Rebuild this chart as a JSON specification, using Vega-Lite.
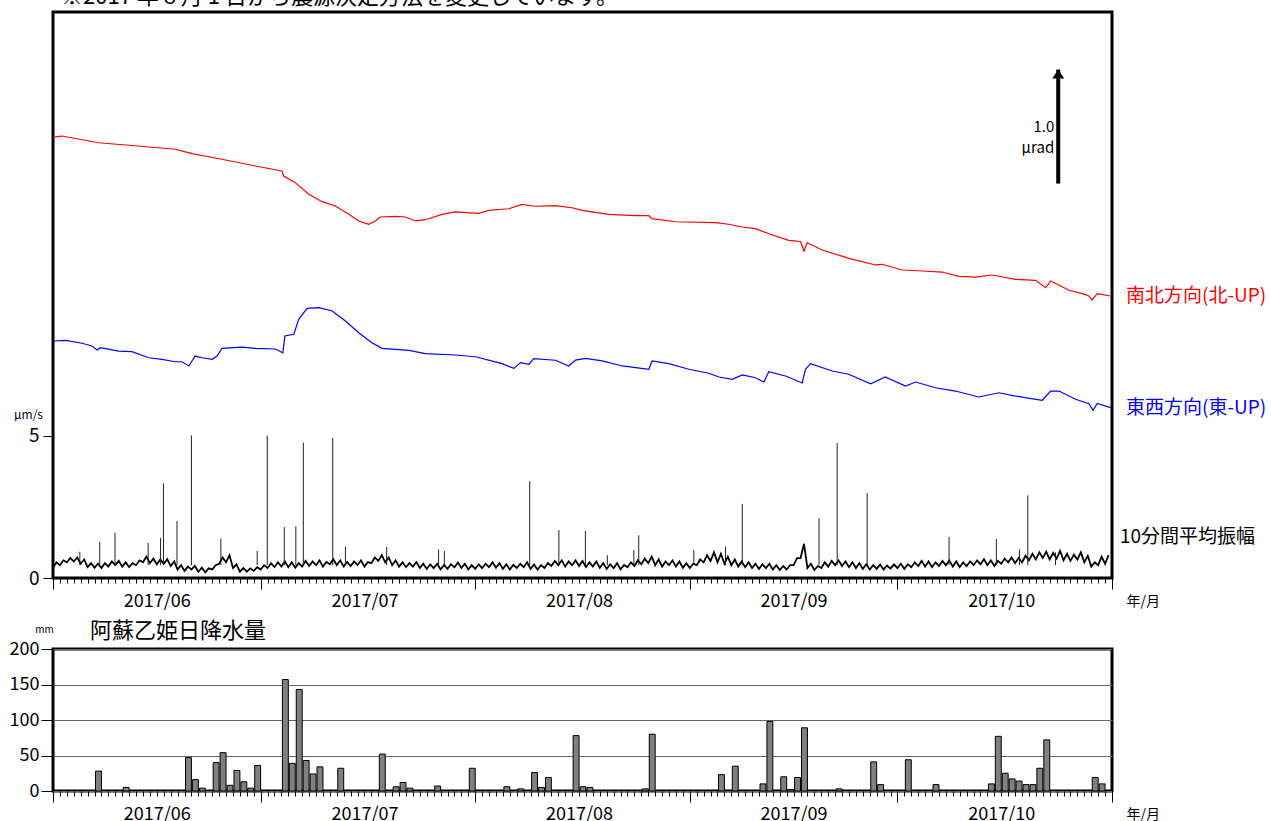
{
"$schema": "https://vega.github.io/schema/vega-lite/v6.json",
"padding": {"left": 7, "top": -16, "right": 2, "bottom": 0},
"background": "white",
"config": {
 "font": "Noto Sans CJK JP",
 "view": {"stroke": "black", "strokeWidth": 3},
 "title": {"fontWeight": "normal", "color": "black", "font": "Noto Sans CJK JP"},
 "axis": {"labelColor": "black", "tickColor": "black", "titleColor": "black", "labelFont": "Noto Sans CJK JP", "titleFont": "Noto Sans CJK JP", "titleFontWeight": "normal"}
},
"datasets": {
 "tilt": [
  {"comp":"NS","t":"2017-06-01T02:00","v":3.868},{"comp":"NS","t":"2017-06-02T07:00","v":3.877},{"comp":"NS","t":"2017-06-07T14:00","v":3.818},{"comp":"NS","t":"2017-06-11T23:00","v":3.796},{"comp":"NS","t":"2017-06-18T16:00","v":3.761},{"comp":"NS","t":"2017-06-21T02:00","v":3.722},{"comp":"NS","t":"2017-06-25T10:00","v":3.673},{"comp":"NS","t":"2017-06-30T06:00","v":3.614},{"comp":"NS","t":"2017-07-04T02:00","v":3.570},{"comp":"NS","t":"2017-07-04T08:00","v":3.526},{"comp":"NS","t":"2017-07-06T00:00","v":3.468},{"comp":"NS","t":"2017-07-07T23:00","v":3.366},{"comp":"NS","t":"2017-07-09T21:00","v":3.301},{"comp":"NS","t":"2017-07-11T19:00","v":3.263},{"comp":"NS","t":"2017-07-13T18:00","v":3.190},{"comp":"NS","t":"2017-07-15T04:00","v":3.132},{"comp":"NS","t":"2017-07-16T15:00","v":3.103},{"comp":"NS","t":"2017-07-17T14:00","v":3.132},{"comp":"NS","t":"2017-07-18T07:00","v":3.167},{"comp":"NS","t":"2017-07-20T11:00","v":3.173},{"comp":"NS","t":"2017-07-21T22:00","v":3.167},{"comp":"NS","t":"2017-07-23T09:00","v":3.132},{"comp":"NS","t":"2017-07-24T19:00","v":3.143},{"comp":"NS","t":"2017-07-27T05:00","v":3.190},{"comp":"NS","t":"2017-07-29T03:00","v":3.211},{"comp":"NS","t":"2017-08-01T12:00","v":3.199},{"comp":"NS","t":"2017-08-02T23:00","v":3.225},{"comp":"NS","t":"2017-08-05T20:00","v":3.239},{"comp":"NS","t":"2017-08-07T18:00","v":3.278},{"comp":"NS","t":"2017-08-09T17:00","v":3.261},{"comp":"NS","t":"2017-08-12T14:00","v":3.266},{"comp":"NS","t":"2017-08-15T00:00","v":3.248},{"comp":"NS","t":"2017-08-16T11:00","v":3.225},{"comp":"NS","t":"2017-08-20T07:00","v":3.190},{"comp":"NS","t":"2017-08-24T04:00","v":3.178},{"comp":"NS","t":"2017-08-26T02:00","v":3.178},{"comp":"NS","t":"2017-08-26T13:00","v":3.152},{"comp":"NS","t":"2017-08-29T22:00","v":3.125},{"comp":"NS","t":"2017-09-04T17:00","v":3.117},{"comp":"NS","t":"2017-09-06T15:00","v":3.103},{"comp":"NS","t":"2017-09-08T14:00","v":3.079},{"comp":"NS","t":"2017-09-10T12:00","v":3.064},{"comp":"NS","t":"2017-09-12T10:00","v":3.020},{"comp":"NS","t":"2017-09-15T07:00","v":2.962},{"comp":"NS","t":"2017-09-17T00:00","v":2.952},{"comp":"NS","t":"2017-09-17T12:00","v":2.868},{"comp":"NS","t":"2017-09-17T23:00","v":2.941},{"comp":"NS","t":"2017-09-20T03:00","v":2.877},{"comp":"NS","t":"2017-09-24T00:00","v":2.804},{"comp":"NS","t":"2017-09-27T20:00","v":2.746},{"comp":"NS","t":"2017-09-28T19:00","v":2.752},{"comp":"NS","t":"2017-10-01T17:00","v":2.702},{"comp":"NS","t":"2017-10-04T14:00","v":2.693},{"comp":"NS","t":"2017-10-07T11:00","v":2.684},{"comp":"NS","t":"2017-10-09T21:00","v":2.646},{"comp":"NS","t":"2017-10-12T07:00","v":2.640},{"comp":"NS","t":"2017-10-14T17:00","v":2.658},{"comp":"NS","t":"2017-10-18T01:00","v":2.620},{"comp":"NS","t":"2017-10-20T23:00","v":2.611},{"comp":"NS","t":"2017-10-22T10:00","v":2.546},{"comp":"NS","t":"2017-10-23T03:00","v":2.605},{"comp":"NS","t":"2017-10-25T19:00","v":2.524},{"comp":"NS","t":"2017-10-27T17:00","v":2.494},{"comp":"NS","t":"2017-10-28T16:00","v":2.474},{"comp":"NS","t":"2017-10-29T03:00","v":2.439},{"comp":"NS","t":"2017-10-29T21:00","v":2.494},{"comp":"NS","t":"2017-10-31T19:00","v":2.474},
  {"comp":"EW","t":"2017-06-01T02:00","v":2.079},{"comp":"EW","t":"2017-06-02T19:00","v":2.085},{"comp":"EW","t":"2017-06-05T05:00","v":2.059},{"comp":"EW","t":"2017-06-06T15:00","v":2.035},{"comp":"EW","t":"2017-06-07T09:00","v":2.000},{"comp":"EW","t":"2017-06-07T20:00","v":2.020},{"comp":"EW","t":"2017-06-10T12:00","v":1.991},{"comp":"EW","t":"2017-06-12T10:00","v":1.985},{"comp":"EW","t":"2017-06-14T20:00","v":1.932},{"comp":"EW","t":"2017-06-16T18:00","v":1.918},{"comp":"EW","t":"2017-06-18T16:00","v":1.897},{"comp":"EW","t":"2017-06-19T15:00","v":1.897},{"comp":"EW","t":"2017-06-20T15:00","v":1.860},{"comp":"EW","t":"2017-06-21T13:00","v":1.947},{"comp":"EW","t":"2017-06-22T13:00","v":1.932},{"comp":"EW","t":"2017-06-24T00:00","v":1.918},{"comp":"EW","t":"2017-06-24T17:00","v":1.947},{"comp":"EW","t":"2017-06-25T10:00","v":2.015},{"comp":"EW","t":"2017-06-28T07:00","v":2.026},{"comp":"EW","t":"2017-06-30T06:00","v":2.015},{"comp":"EW","t":"2017-07-03T03:00","v":2.009},{"comp":"EW","t":"2017-07-04T05:00","v":1.976},{"comp":"EW","t":"2017-07-04T12:00","v":2.123},{"comp":"EW","t":"2017-07-05T19:00","v":2.138},{"comp":"EW","t":"2017-07-06T12:00","v":2.269},{"comp":"EW","t":"2017-07-07T17:00","v":2.366},{"comp":"EW","t":"2017-07-09T10:00","v":2.371},{"comp":"EW","t":"2017-07-11T08:00","v":2.342},{"comp":"EW","t":"2017-07-13T06:00","v":2.254},{"comp":"EW","t":"2017-07-15T04:00","v":2.152},{"comp":"EW","t":"2017-07-17T02:00","v":2.064},{"comp":"EW","t":"2017-07-18T13:00","v":2.015},{"comp":"EW","t":"2017-07-22T10:00","v":1.997},{"comp":"EW","t":"2017-07-24T19:00","v":1.968},{"comp":"EW","t":"2017-07-29T03:00","v":1.956},{"comp":"EW","t":"2017-08-01T01:00","v":1.941},{"comp":"EW","t":"2017-08-04T21:00","v":1.880},{"comp":"EW","t":"2017-08-06T14:00","v":1.839},{"comp":"EW","t":"2017-08-07T13:00","v":1.889},{"comp":"EW","t":"2017-08-08T18:00","v":1.875},{"comp":"EW","t":"2017-08-09T11:00","v":1.924},{"comp":"EW","t":"2017-08-12T14:00","v":1.910},{"comp":"EW","t":"2017-08-14T12:00","v":1.860},{"comp":"EW","t":"2017-08-15T12:00","v":1.912},{"comp":"EW","t":"2017-08-16T22:00","v":1.927},{"comp":"EW","t":"2017-08-19T08:00","v":1.904},{"comp":"EW","t":"2017-08-22T06:00","v":1.860},{"comp":"EW","t":"2017-08-26T02:00","v":1.831},{"comp":"EW","t":"2017-08-26T13:00","v":1.904},{"comp":"EW","t":"2017-08-28T23:00","v":1.880},{"comp":"EW","t":"2017-08-31T21:00","v":1.831},{"comp":"EW","t":"2017-09-03T18:00","v":1.796},{"comp":"EW","t":"2017-09-05T05:00","v":1.763},{"comp":"EW","t":"2017-09-07T03:00","v":1.743},{"comp":"EW","t":"2017-09-08T14:00","v":1.781},{"comp":"EW","t":"2017-09-10T12:00","v":1.757},{"comp":"EW","t":"2017-09-11T17:00","v":1.719},{"comp":"EW","t":"2017-09-12T10:00","v":1.810},{"comp":"EW","t":"2017-09-14T20:00","v":1.772},{"comp":"EW","t":"2017-09-17T06:00","v":1.711},{"comp":"EW","t":"2017-09-17T17:00","v":1.831},{"comp":"EW","t":"2017-09-18T11:00","v":1.880},{"comp":"EW","t":"2017-09-21T14:00","v":1.816},{"comp":"EW","t":"2017-09-23T23:00","v":1.787},{"comp":"EW","t":"2017-09-27T03:00","v":1.704},{"comp":"EW","t":"2017-09-29T06:00","v":1.763},{"comp":"EW","t":"2017-10-02T04:00","v":1.684},{"comp":"EW","t":"2017-10-03T15:00","v":1.719},{"comp":"EW","t":"2017-10-06T12:00","v":1.669},{"comp":"EW","t":"2017-10-09T09:00","v":1.640},{"comp":"EW","t":"2017-10-12T18:00","v":1.588},{"comp":"EW","t":"2017-10-15T16:00","v":1.625},{"comp":"EW","t":"2017-10-18T01:00","v":1.596},{"comp":"EW","t":"2017-10-21T22:00","v":1.559},{"comp":"EW","t":"2017-10-23T03:00","v":1.640},{"comp":"EW","t":"2017-10-24T08:00","v":1.640},{"comp":"EW","t":"2017-10-26T18:00","v":1.568},{"comp":"EW","t":"2017-10-28T16:00","v":1.529},{"comp":"EW","t":"2017-10-29T06:00","v":1.471},{"comp":"EW","t":"2017-10-29T21:00","v":1.532},{"comp":"EW","t":"2017-10-31T19:00","v":1.494}
 ],
 "labels": [
  {"comp":"NS","label":"南北方向(北-UP)","t":"2017-11-01T00:00","v":2.474},
  {"comp":"EW","label":"東西方向(東-UP)","t":"2017-11-01T00:00","v":1.494}
 ],
 "amplabel": [{"label":"10分間平均振幅","t":"2017-11-01T00:00","v":1.44}],
 "amp": [
  {"t":"2017-06-01T00:00","v":0.35},{"t":"2017-06-01T12:00","v":0.55},{"t":"2017-06-02T00:00","v":0.45},{"t":"2017-06-02T12:00","v":0.62},{"t":"2017-06-03T00:00","v":0.55},{"t":"2017-06-03T12:00","v":0.70},{"t":"2017-06-04T00:00","v":0.58},{"t":"2017-06-04T12:00","v":0.72},{"t":"2017-06-05T00:00","v":0.50},{"t":"2017-06-05T12:00","v":0.65},{"t":"2017-06-06T00:00","v":0.38},{"t":"2017-06-06T12:00","v":0.52},{"t":"2017-06-07T00:00","v":0.36},{"t":"2017-06-07T12:00","v":0.50},{"t":"2017-06-08T00:00","v":0.35},{"t":"2017-06-08T12:00","v":0.52},{"t":"2017-06-09T00:00","v":0.40},{"t":"2017-06-09T12:00","v":0.58},{"t":"2017-06-10T00:00","v":0.45},{"t":"2017-06-10T12:00","v":0.60},{"t":"2017-06-11T00:00","v":0.40},{"t":"2017-06-11T12:00","v":0.55},{"t":"2017-06-12T00:00","v":0.38},{"t":"2017-06-12T12:00","v":0.52},{"t":"2017-06-13T00:00","v":0.45},{"t":"2017-06-13T12:00","v":0.62},{"t":"2017-06-14T00:00","v":0.55},{"t":"2017-06-14T12:00","v":0.75},{"t":"2017-06-15T00:00","v":0.52},{"t":"2017-06-15T12:00","v":0.68},{"t":"2017-06-16T00:00","v":0.48},{"t":"2017-06-16T12:00","v":0.65},{"t":"2017-06-17T00:00","v":0.50},{"t":"2017-06-17T12:00","v":0.66},{"t":"2017-06-18T00:00","v":0.42},{"t":"2017-06-18T12:00","v":0.58},{"t":"2017-06-19T00:00","v":0.30},{"t":"2017-06-19T12:00","v":0.45},{"t":"2017-06-20T00:00","v":0.25},{"t":"2017-06-20T12:00","v":0.40},{"t":"2017-06-21T00:00","v":0.30},{"t":"2017-06-21T12:00","v":0.42},{"t":"2017-06-22T00:00","v":0.22},{"t":"2017-06-22T12:00","v":0.36},{"t":"2017-06-23T00:00","v":0.20},{"t":"2017-06-23T12:00","v":0.34},{"t":"2017-06-24T00:00","v":0.30},{"t":"2017-06-24T12:00","v":0.45},{"t":"2017-06-25T00:00","v":0.50},{"t":"2017-06-25T12:00","v":0.72},{"t":"2017-06-26T00:00","v":0.55},{"t":"2017-06-26T12:00","v":0.80},{"t":"2017-06-27T00:00","v":0.35},{"t":"2017-06-27T12:00","v":0.48},{"t":"2017-06-28T00:00","v":0.22},{"t":"2017-06-28T12:00","v":0.35},{"t":"2017-06-29T00:00","v":0.22},{"t":"2017-06-29T12:00","v":0.34},{"t":"2017-06-30T00:00","v":0.25},{"t":"2017-06-30T12:00","v":0.38},
  {"t":"2017-07-01T00:00","v":0.30},{"t":"2017-07-01T12:00","v":0.45},{"t":"2017-07-02T00:00","v":0.35},{"t":"2017-07-02T12:00","v":0.52},{"t":"2017-07-03T00:00","v":0.38},{"t":"2017-07-03T12:00","v":0.55},{"t":"2017-07-04T00:00","v":0.40},{"t":"2017-07-04T12:00","v":0.58},{"t":"2017-07-05T00:00","v":0.38},{"t":"2017-07-05T12:00","v":0.55},{"t":"2017-07-06T00:00","v":0.36},{"t":"2017-07-06T12:00","v":0.52},{"t":"2017-07-07T00:00","v":0.40},{"t":"2017-07-07T12:00","v":0.60},{"t":"2017-07-08T00:00","v":0.42},{"t":"2017-07-08T12:00","v":0.58},{"t":"2017-07-09T00:00","v":0.45},{"t":"2017-07-09T12:00","v":0.62},{"t":"2017-07-10T00:00","v":0.40},{"t":"2017-07-10T12:00","v":0.56},{"t":"2017-07-11T00:00","v":0.48},{"t":"2017-07-11T12:00","v":0.66},{"t":"2017-07-12T00:00","v":0.45},{"t":"2017-07-12T12:00","v":0.62},{"t":"2017-07-13T00:00","v":0.40},{"t":"2017-07-13T12:00","v":0.56},{"t":"2017-07-14T00:00","v":0.42},{"t":"2017-07-14T12:00","v":0.58},{"t":"2017-07-15T00:00","v":0.45},{"t":"2017-07-15T12:00","v":0.62},{"t":"2017-07-16T00:00","v":0.40},{"t":"2017-07-16T12:00","v":0.56},{"t":"2017-07-17T00:00","v":0.52},{"t":"2017-07-17T12:00","v":0.72},{"t":"2017-07-18T00:00","v":0.60},{"t":"2017-07-18T12:00","v":0.80},{"t":"2017-07-19T00:00","v":0.55},{"t":"2017-07-19T12:00","v":0.72},{"t":"2017-07-20T00:00","v":0.45},{"t":"2017-07-20T12:00","v":0.62},{"t":"2017-07-21T00:00","v":0.40},{"t":"2017-07-21T12:00","v":0.55},{"t":"2017-07-22T00:00","v":0.38},{"t":"2017-07-22T12:00","v":0.52},{"t":"2017-07-23T00:00","v":0.40},{"t":"2017-07-23T12:00","v":0.56},{"t":"2017-07-24T00:00","v":0.35},{"t":"2017-07-24T12:00","v":0.50},{"t":"2017-07-25T00:00","v":0.32},{"t":"2017-07-25T12:00","v":0.48},{"t":"2017-07-26T00:00","v":0.35},{"t":"2017-07-26T12:00","v":0.50},{"t":"2017-07-27T00:00","v":0.30},{"t":"2017-07-27T12:00","v":0.46},{"t":"2017-07-28T00:00","v":0.32},{"t":"2017-07-28T12:00","v":0.48},{"t":"2017-07-29T00:00","v":0.38},{"t":"2017-07-29T12:00","v":0.54},{"t":"2017-07-30T00:00","v":0.35},{"t":"2017-07-30T12:00","v":0.50},{"t":"2017-07-31T00:00","v":0.30},{"t":"2017-07-31T12:00","v":0.45},
  {"t":"2017-08-01T00:00","v":0.32},{"t":"2017-08-01T12:00","v":0.48},{"t":"2017-08-02T00:00","v":0.35},{"t":"2017-08-02T12:00","v":0.50},{"t":"2017-08-03T00:00","v":0.38},{"t":"2017-08-03T12:00","v":0.55},{"t":"2017-08-04T00:00","v":0.36},{"t":"2017-08-04T12:00","v":0.52},{"t":"2017-08-05T00:00","v":0.32},{"t":"2017-08-05T12:00","v":0.48},{"t":"2017-08-06T00:00","v":0.30},{"t":"2017-08-06T12:00","v":0.46},{"t":"2017-08-07T00:00","v":0.35},{"t":"2017-08-07T12:00","v":0.50},{"t":"2017-08-08T00:00","v":0.38},{"t":"2017-08-08T12:00","v":0.55},{"t":"2017-08-09T00:00","v":0.32},{"t":"2017-08-09T12:00","v":0.47},{"t":"2017-08-10T00:00","v":0.30},{"t":"2017-08-10T12:00","v":0.45},{"t":"2017-08-11T00:00","v":0.35},{"t":"2017-08-11T12:00","v":0.52},{"t":"2017-08-12T00:00","v":0.42},{"t":"2017-08-12T12:00","v":0.60},{"t":"2017-08-13T00:00","v":0.45},{"t":"2017-08-13T12:00","v":0.62},{"t":"2017-08-14T00:00","v":0.40},{"t":"2017-08-14T12:00","v":0.58},{"t":"2017-08-15T00:00","v":0.45},{"t":"2017-08-15T12:00","v":0.62},{"t":"2017-08-16T00:00","v":0.42},{"t":"2017-08-16T12:00","v":0.60},{"t":"2017-08-17T00:00","v":0.38},{"t":"2017-08-17T12:00","v":0.55},{"t":"2017-08-18T00:00","v":0.40},{"t":"2017-08-18T12:00","v":0.58},{"t":"2017-08-19T00:00","v":0.36},{"t":"2017-08-19T12:00","v":0.52},{"t":"2017-08-20T00:00","v":0.32},{"t":"2017-08-20T12:00","v":0.48},{"t":"2017-08-21T00:00","v":0.35},{"t":"2017-08-21T12:00","v":0.52},{"t":"2017-08-22T00:00","v":0.30},{"t":"2017-08-22T12:00","v":0.46},{"t":"2017-08-23T00:00","v":0.38},{"t":"2017-08-23T12:00","v":0.55},{"t":"2017-08-24T00:00","v":0.42},{"t":"2017-08-24T12:00","v":0.62},{"t":"2017-08-25T00:00","v":0.48},{"t":"2017-08-25T12:00","v":0.68},{"t":"2017-08-26T00:00","v":0.52},{"t":"2017-08-26T12:00","v":0.75},{"t":"2017-08-27T00:00","v":0.45},{"t":"2017-08-27T12:00","v":0.65},{"t":"2017-08-28T00:00","v":0.40},{"t":"2017-08-28T12:00","v":0.58},{"t":"2017-08-29T00:00","v":0.45},{"t":"2017-08-29T12:00","v":0.62},{"t":"2017-08-30T00:00","v":0.40},{"t":"2017-08-30T12:00","v":0.58},{"t":"2017-08-31T00:00","v":0.36},{"t":"2017-08-31T12:00","v":0.52},
  {"t":"2017-09-01T00:00","v":0.35},{"t":"2017-09-01T12:00","v":0.50},{"t":"2017-09-02T00:00","v":0.45},{"t":"2017-09-02T12:00","v":0.65},{"t":"2017-09-03T00:00","v":0.55},{"t":"2017-09-03T12:00","v":0.80},{"t":"2017-09-04T00:00","v":0.60},{"t":"2017-09-04T12:00","v":0.90},{"t":"2017-09-05T00:00","v":0.55},{"t":"2017-09-05T12:00","v":0.85},{"t":"2017-09-06T00:00","v":0.50},{"t":"2017-09-06T12:00","v":0.75},{"t":"2017-09-07T00:00","v":0.45},{"t":"2017-09-07T12:00","v":0.65},{"t":"2017-09-08T00:00","v":0.40},{"t":"2017-09-08T12:00","v":0.58},{"t":"2017-09-09T00:00","v":0.38},{"t":"2017-09-09T12:00","v":0.55},{"t":"2017-09-10T00:00","v":0.35},{"t":"2017-09-10T12:00","v":0.50},{"t":"2017-09-11T00:00","v":0.32},{"t":"2017-09-11T12:00","v":0.48},{"t":"2017-09-12T00:00","v":0.35},{"t":"2017-09-12T12:00","v":0.50},{"t":"2017-09-13T00:00","v":0.30},{"t":"2017-09-13T12:00","v":0.45},{"t":"2017-09-14T00:00","v":0.28},{"t":"2017-09-14T12:00","v":0.42},{"t":"2017-09-15T00:00","v":0.30},{"t":"2017-09-15T12:00","v":0.45},{"t":"2017-09-16T00:00","v":0.45},{"t":"2017-09-16T12:00","v":0.70},{"t":"2017-09-17T00:00","v":0.70},{"t":"2017-09-17T12:00","v":1.20},{"t":"2017-09-18T00:00","v":0.35},{"t":"2017-09-18T12:00","v":0.50},{"t":"2017-09-19T00:00","v":0.28},{"t":"2017-09-19T12:00","v":0.42},{"t":"2017-09-20T00:00","v":0.35},{"t":"2017-09-20T12:00","v":0.55},{"t":"2017-09-21T00:00","v":0.40},{"t":"2017-09-21T12:00","v":0.60},{"t":"2017-09-22T00:00","v":0.45},{"t":"2017-09-22T12:00","v":0.62},{"t":"2017-09-23T00:00","v":0.42},{"t":"2017-09-23T12:00","v":0.58},{"t":"2017-09-24T00:00","v":0.38},{"t":"2017-09-24T12:00","v":0.55},{"t":"2017-09-25T00:00","v":0.35},{"t":"2017-09-25T12:00","v":0.52},{"t":"2017-09-26T00:00","v":0.32},{"t":"2017-09-26T12:00","v":0.48},{"t":"2017-09-27T00:00","v":0.30},{"t":"2017-09-27T12:00","v":0.45},{"t":"2017-09-28T00:00","v":0.32},{"t":"2017-09-28T12:00","v":0.47},{"t":"2017-09-29T00:00","v":0.30},{"t":"2017-09-29T12:00","v":0.44},{"t":"2017-09-30T00:00","v":0.33},{"t":"2017-09-30T12:00","v":0.48},
  {"t":"2017-10-01T00:00","v":0.35},{"t":"2017-10-01T12:00","v":0.50},{"t":"2017-10-02T00:00","v":0.32},{"t":"2017-10-02T12:00","v":0.48},{"t":"2017-10-03T00:00","v":0.38},{"t":"2017-10-03T12:00","v":0.55},{"t":"2017-10-04T00:00","v":0.42},{"t":"2017-10-04T12:00","v":0.60},{"t":"2017-10-05T00:00","v":0.40},{"t":"2017-10-05T12:00","v":0.58},{"t":"2017-10-06T00:00","v":0.38},{"t":"2017-10-06T12:00","v":0.55},{"t":"2017-10-07T00:00","v":0.42},{"t":"2017-10-07T12:00","v":0.60},{"t":"2017-10-08T00:00","v":0.45},{"t":"2017-10-08T12:00","v":0.62},{"t":"2017-10-09T00:00","v":0.40},{"t":"2017-10-09T12:00","v":0.58},{"t":"2017-10-10T00:00","v":0.38},{"t":"2017-10-10T12:00","v":0.55},{"t":"2017-10-11T00:00","v":0.42},{"t":"2017-10-11T12:00","v":0.58},{"t":"2017-10-12T00:00","v":0.45},{"t":"2017-10-12T12:00","v":0.62},{"t":"2017-10-13T00:00","v":0.48},{"t":"2017-10-13T12:00","v":0.66},{"t":"2017-10-14T00:00","v":0.45},{"t":"2017-10-14T12:00","v":0.62},{"t":"2017-10-15T00:00","v":0.42},{"t":"2017-10-15T12:00","v":0.60},{"t":"2017-10-16T00:00","v":0.50},{"t":"2017-10-16T12:00","v":0.68},{"t":"2017-10-17T00:00","v":0.55},{"t":"2017-10-17T12:00","v":0.72},{"t":"2017-10-18T00:00","v":0.52},{"t":"2017-10-18T12:00","v":0.70},{"t":"2017-10-19T00:00","v":0.55},{"t":"2017-10-19T12:00","v":0.78},{"t":"2017-10-20T00:00","v":0.62},{"t":"2017-10-20T12:00","v":0.85},{"t":"2017-10-21T00:00","v":0.65},{"t":"2017-10-21T12:00","v":0.90},{"t":"2017-10-22T00:00","v":0.70},{"t":"2017-10-22T12:00","v":0.92},{"t":"2017-10-23T00:00","v":0.65},{"t":"2017-10-23T12:00","v":0.88},{"t":"2017-10-24T00:00","v":0.68},{"t":"2017-10-24T12:00","v":0.95},{"t":"2017-10-25T00:00","v":0.62},{"t":"2017-10-25T12:00","v":0.85},{"t":"2017-10-26T00:00","v":0.60},{"t":"2017-10-26T12:00","v":0.82},{"t":"2017-10-27T00:00","v":0.65},{"t":"2017-10-27T12:00","v":0.90},{"t":"2017-10-28T00:00","v":0.55},{"t":"2017-10-28T12:00","v":0.78},{"t":"2017-10-29T00:00","v":0.40},{"t":"2017-10-29T12:00","v":0.55},{"t":"2017-10-30T00:00","v":0.45},{"t":"2017-10-30T12:00","v":0.75},{"t":"2017-10-31T00:00","v":0.50},{"t":"2017-10-31T12:00","v":0.80}
 ],
 "spikes": [
  {"t":"2017-06-04T21:00","v":0.92},{"t":"2017-06-07T18:00","v":1.27},{"t":"2017-06-09T23:00","v":1.59},{"t":"2017-06-14T18:00","v":1.24},{"t":"2017-06-16T13:00","v":1.41},{"t":"2017-06-16T23:00","v":3.32},{"t":"2017-06-18T22:00","v":2.0},{"t":"2017-06-21T00:00","v":5.0},{"t":"2017-06-25T06:00","v":1.38},{"t":"2017-06-30T12:00","v":0.95},{"t":"2017-07-01T23:00","v":5.0},{"t":"2017-07-04T10:00","v":1.79},{"t":"2017-07-06T02:00","v":1.81},{"t":"2017-07-07T04:00","v":4.75},{"t":"2017-07-11T10:00","v":4.92},{"t":"2017-07-13T06:00","v":1.09},{"t":"2017-07-19T05:00","v":1.09},{"t":"2017-07-26T17:00","v":1.0},{"t":"2017-07-27T13:00","v":0.95},{"t":"2017-08-08T21:00","v":3.4},{"t":"2017-08-13T02:00","v":1.68},{"t":"2017-08-16T22:00","v":1.65},{"t":"2017-08-20T02:00","v":0.8},{"t":"2017-08-23T22:00","v":0.98},{"t":"2017-08-24T15:00","v":1.5},{"t":"2017-09-01T14:00","v":0.98},{"t":"2017-09-06T04:00","v":1.1},{"t":"2017-09-08T14:00","v":2.6},{"t":"2017-09-19T16:00","v":2.1},{"t":"2017-09-22T07:00","v":4.74},{"t":"2017-09-26T15:00","v":2.98},{"t":"2017-10-08T11:00","v":1.44},{"t":"2017-10-15T07:00","v":1.37},{"t":"2017-10-18T15:00","v":1.0},{"t":"2017-10-19T20:00","v":2.9},{"t":"2017-10-23T20:00","v":0.9}
 ],
 "arrow": [{"t":"2017-10-24T05:30","lo":3.46,"hi":4.46}],
 "arrowtext": [{"label":"1.0","t":"2017-10-24T05:30","v":3.96},{"label":"μrad","t":"2017-10-24T05:30","v":3.77}],
 "rain": [
  {"t":"2017-06-07T00:00","mm":28},{"t":"2017-06-11T00:00","mm":5},{"t":"2017-06-20T00:00","mm":47},{"t":"2017-06-21T00:00","mm":16},{"t":"2017-06-22T00:00","mm":4},{"t":"2017-06-24T00:00","mm":40},{"t":"2017-06-25T00:00","mm":54},{"t":"2017-06-26T00:00","mm":8},{"t":"2017-06-27T00:00","mm":29},{"t":"2017-06-28T00:00","mm":13},{"t":"2017-06-29T00:00","mm":4},{"t":"2017-06-30T00:00","mm":36},
  {"t":"2017-07-04T00:00","mm":157},{"t":"2017-07-05T00:00","mm":39},{"t":"2017-07-06T00:00","mm":143},{"t":"2017-07-07T00:00","mm":43},{"t":"2017-07-08T00:00","mm":24},{"t":"2017-07-09T00:00","mm":34},{"t":"2017-07-12T00:00","mm":32},{"t":"2017-07-18T00:00","mm":52},{"t":"2017-07-20T00:00","mm":6},{"t":"2017-07-21T00:00","mm":12},{"t":"2017-07-22T00:00","mm":4},{"t":"2017-07-26T00:00","mm":7},{"t":"2017-07-31T00:00","mm":32},
  {"t":"2017-08-05T00:00","mm":6},{"t":"2017-08-07T00:00","mm":3},{"t":"2017-08-09T00:00","mm":26},{"t":"2017-08-10T00:00","mm":5},{"t":"2017-08-11T00:00","mm":19},{"t":"2017-08-15T00:00","mm":78},{"t":"2017-08-16T00:00","mm":6},{"t":"2017-08-17T00:00","mm":5},{"t":"2017-08-25T00:00","mm":3},{"t":"2017-08-26T00:00","mm":80},
  {"t":"2017-09-05T00:00","mm":23},{"t":"2017-09-07T00:00","mm":35},{"t":"2017-09-11T00:00","mm":10},{"t":"2017-09-12T00:00","mm":98},{"t":"2017-09-14T00:00","mm":20},{"t":"2017-09-15T00:00","mm":2},{"t":"2017-09-16T00:00","mm":19},{"t":"2017-09-17T00:00","mm":89},{"t":"2017-09-22T00:00","mm":3},{"t":"2017-09-27T00:00","mm":41},{"t":"2017-09-28T00:00","mm":9},
  {"t":"2017-10-02T00:00","mm":44},{"t":"2017-10-06T00:00","mm":9},{"t":"2017-10-14T00:00","mm":10},{"t":"2017-10-15T00:00","mm":77},{"t":"2017-10-16T00:00","mm":25},{"t":"2017-10-17T00:00","mm":17},{"t":"2017-10-18T00:00","mm":14},{"t":"2017-10-19T00:00","mm":9},{"t":"2017-10-20T00:00","mm":9},{"t":"2017-10-21T00:00","mm":32},{"t":"2017-10-22T00:00","mm":72},{"t":"2017-10-29T00:00","mm":19},{"t":"2017-10-30T00:00","mm":10}
 ]
},
"spacing": 71,
"bounds": "flush",
"vconcat": [
 {
  "width": 1059, "height": 566,
  "title": {"text": "※2017 年 8 月 1 日から震源決定方法を変更しています。", "anchor": "start", "frame": "group", "dx": 8, "offset": 3, "fontSize": 22},
  "encoding": {
   "x": {"field": "t", "type": "temporal",
    "scale": {"domain": [{"year": 2017, "month": 6, "date": 1}, {"year": 2017, "month": 11, "date": 1}]},
    "axis": {"tickCount": {"interval": "day", "step": 1},
     "tickSize": {"condition": {"test": "date(datum.value) == 1", "value": 11}, "value": 5},
     "labelExpr": "date(datum.value) == 16 ? timeFormat(datum.value, '%Y/%m') : ''",
     "labelOverlap": false, "labelFlush": false, "labelPadding": 9, "labelFontSize": 18,
     "domain": false, "grid": false, "tickWidth": 1,
     "title": "年/月", "titleX": 1073, "titleY": 23, "titleAlign": "left", "titleBaseline": "middle", "titleFontSize": 14}}
  },
  "layer": [
   {"data": {"name": "amp"}, "mark": {"type": "line", "color": "black", "strokeWidth": 1.8},
    "encoding": {"y": {"field": "v", "type": "quantitative", "scale": {"domain": [0, 19.86]},
     "axis": {"orient": "left", "values": [0, 5], "grid": false, "domain": false, "tickSize": 10, "labelPadding": 4, "labelFontSize": 19,
      "title": "μm/s", "titleAngle": 0, "titleFontSize": 12, "titleX": -25, "titleY": 406, "titleAlign": "center", "titleBaseline": "alphabetic"}}}},
   {"data": {"name": "spikes"}, "mark": {"type": "rule", "color": "#222222", "strokeWidth": 1},
    "encoding": {"y": {"field": "v", "type": "quantitative", "scale": {"domain": [0, 19.86]}, "axis": null}, "y2": {"datum": 0.45}}},
   {"data": {"name": "amplabel"}, "mark": {"type": "text", "align": "left", "dx": 8, "fontSize": 19, "color": "black"},
    "encoding": {"y": {"field": "v", "type": "quantitative", "scale": {"domain": [0, 19.86]}, "axis": null}, "text": {"field": "label"}}},
   {"data": {"name": "tilt"}, "mark": {"type": "line", "strokeWidth": 1.2},
    "encoding": {"y": {"field": "v", "type": "quantitative", "scale": {"domain": [0, 4.965]}, "axis": null},
     "color": {"field": "comp", "type": "nominal", "scale": {"domain": ["NS", "EW"], "range": ["#ff0000", "#0000ff"]}, "legend": null}}},
   {"data": {"name": "labels"}, "mark": {"type": "text", "align": "left", "dx": 14, "fontSize": 19},
    "encoding": {"y": {"field": "v", "type": "quantitative", "scale": {"domain": [0, 4.965]}, "axis": null},
     "text": {"field": "label"},
     "color": {"field": "comp", "type": "nominal", "scale": {"domain": ["NS", "EW"], "range": ["#ff0000", "#0000ff"]}, "legend": null}}},
   {"data": {"name": "arrow"}, "mark": {"type": "rule", "color": "black", "strokeWidth": 4},
    "encoding": {"y": {"field": "lo", "type": "quantitative", "scale": {"domain": [0, 4.965]}, "axis": null}, "y2": {"field": "hi"}}},
   {"data": {"name": "arrow"}, "mark": {"type": "point", "shape": "M0,0L1,1.5L-1,1.5Z", "size": 144, "filled": true, "color": "black", "opacity": 1},
    "encoding": {"y": {"field": "hi", "type": "quantitative", "scale": {"domain": [0, 4.965]}, "axis": null}}},
   {"data": {"name": "arrowtext"}, "mark": {"type": "text", "align": "right", "dx": -4, "fontSize": 15, "color": "black"},
    "encoding": {"y": {"field": "v", "type": "quantitative", "scale": {"domain": [0, 4.965]}, "axis": null}, "text": {"field": "label"}}}
  ],
  "resolve": {"scale": {"y": "independent", "color": "independent"}}
 },
 {
  "width": 1059, "height": 142,
  "title": {"text": "阿蘇乙姫日降水量", "anchor": "start", "frame": "group", "dx": 37, "offset": -19, "fontSize": 22},
  "data": {"name": "rain"},
  "mark": {"type": "bar", "color": "#808080", "stroke": "black", "strokeWidth": 1, "timeUnitBandSize": 0.8},
  "encoding": {
   "x": {"field": "t", "timeUnit": "yearmonthdate", "type": "temporal",
    "scale": {"domain": [{"year": 2017, "month": 6, "date": 1}, {"year": 2017, "month": 11, "date": 1}]},
    "axis": {"tickCount": {"interval": "day", "step": 1},
     "tickSize": {"condition": {"test": "date(datum.value) == 1", "value": 11}, "value": 5},
     "labelExpr": "date(datum.value) == 16 ? timeFormat(datum.value, '%Y/%m') : ''",
     "labelOverlap": false, "labelFlush": false, "labelPadding": 9, "labelFontSize": 18,
     "domain": false, "grid": false, "tickWidth": 1,
     "title": "年/月", "titleX": 1073, "titleY": 23, "titleAlign": "left", "titleBaseline": "middle", "titleFontSize": 14}},
   "y": {"field": "mm", "type": "quantitative", "scale": {"domain": [0, 200]},
    "axis": {"values": [0, 50, 100, 150, 200], "grid": true, "gridColor": "#666666", "gridWidth": 1, "gridOpacity": 1, "domain": false,
     "tickSize": 12, "labelPadding": 2, "labelFontSize": 18,
     "title": "mm", "titleAngle": 0, "titleFontSize": 10, "titleX": -9, "titleY": -17, "titleAlign": "center", "titleBaseline": "alphabetic"}}
  }
 }
]
}
